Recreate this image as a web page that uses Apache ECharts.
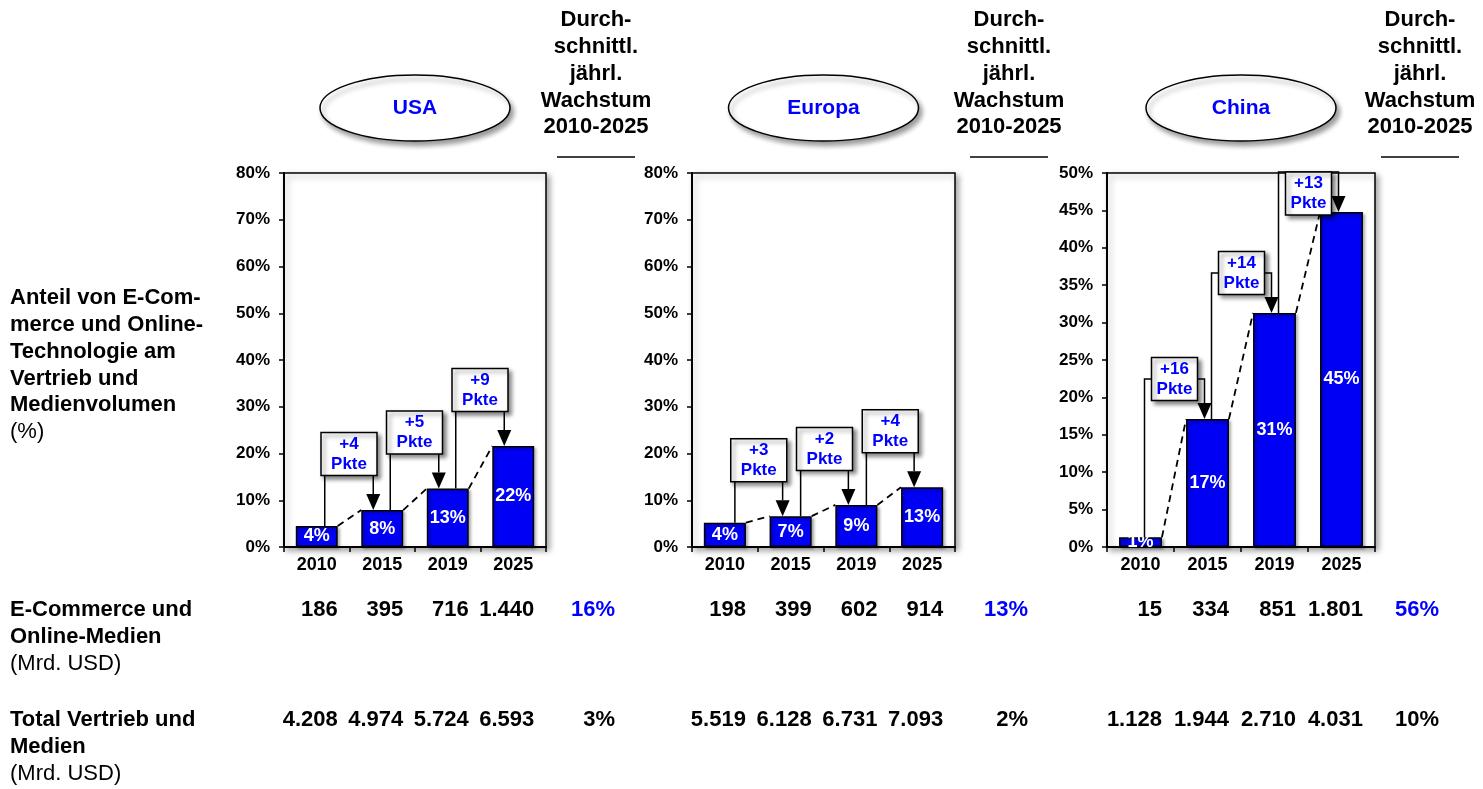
<!DOCTYPE html>
<html>
<head>
<meta charset="utf-8">
<script src="https://cdn.jsdelivr.net/npm/echarts@6/dist/echarts.min.js"></script>
<style>
html, body { margin: 0; padding: 0; background: #fff; }
#chart { width: 1483px; height: 789px; }
</style>
</head>
<body>
<div id="chart"></div>
<script>
// categories
const years = ["2010", "2015", "2019", "2025"];

// share of e-commerce (%), bar heights and printed labels
const usaShare = [4.5, 7.9, 12.5, 21.6];
const usaShareLabel = [4, 8, 13, 22];
const usaDelta = [4, 5, 9];
const europeShare = [5.2, 6.6, 9.0, 12.8];
const europeShareLabel = [4, 7, 9, 13];
const europeDelta = [3, 2, 4];
const chinaShare = [1.3, 17.1, 31.3, 44.8];
const chinaShareLabel = [1, 17, 31, 45];
const chinaDelta = [16, 14, 13];

// Mrd. USD
const usaEcom = [186, 395, 716, 1440];
const usaTotal = [4208, 4974, 5724, 6593];
const europeEcom = [198, 399, 602, 914];
const europeTotal = [5519, 6128, 6731, 7093];
const chinaEcom = [15, 334, 851, 1801];
const chinaTotal = [1128, 1944, 2710, 4031];

// average yearly growth 2010-2025 (%)
const ecomGrowth = [16, 13, 56];
const totalGrowth = [3, 2, 10];

const FONT = '"Liberation Sans", Arial, Helvetica, sans-serif';
const BLUE = "#0000ff";

const panels = [
  { name: "USA", share: usaShare, label: usaShareLabel, delta: usaDelta, ecom: usaEcom, total: usaTotal,
    max: 80, step: 10, left: 284, width: 262, lineOff: 8, arrowOff: 9, lift: 56, boxW: 56, colOff: 50 },
  { name: "Europa", share: europeShare, label: europeShareLabel, delta: europeDelta, ecom: europeEcom, total: europeTotal,
    max: 80, step: 10, left: 692, width: 263, lineOff: 10, arrowOff: 8, lift: 56, boxW: 56, colOff: 54 },
  { name: "China", share: chinaShare, label: chinaShareLabel, delta: chinaDelta, ecom: chinaEcom, total: chinaTotal,
    max: 50, step: 5, left: 1107, width: 268, lineOff: 4, arrowOff: 3, lift: 40, boxW: 46, colOff: 45 }
];
const gridTop = 173, gridHeight = 374;

function fmt(n) {
  const s = String(n);
  return s.length > 3 ? s.slice(0, s.length - 3) + "." + s.slice(-3) : s;
}

function annotationItem(p) {
  return function (params, api) {
    const i = api.value(0);
    const a = api.coord([i, api.value(1)]);
    const b = api.coord([i + 1, api.value(2)]);
    const lineX = a[0] + p.lineOff;
    const arrowX = b[0] - p.arrowOff;
    const bracketY = b[1] - p.lift;
    const boxH = 43;
    const boxCy = Math.max(bracketY, params.coordSys.y + boxH / 2 - 1);
    const boxCx = (lineX + arrowX) / 2;
    const headH = 16, headW = 14;
    return {
      type: "group",
      children: [
        { type: "polyline",
          shape: { points: [[lineX, a[1]], [lineX, bracketY], [arrowX, bracketY], [arrowX, b[1] - headH]] },
          style: { stroke: "#000", lineWidth: 1.5, fill: null } },
        { type: "polygon",
          shape: { points: [[arrowX - headW / 2, b[1] - headH], [arrowX + headW / 2, b[1] - headH], [arrowX, b[1]]] },
          style: { fill: "#000" } },
        { type: "rect",
          shape: { x: boxCx - p.boxW / 2, y: boxCy - boxH / 2, width: p.boxW, height: boxH },
          style: { fill: "#fff", stroke: "#000", lineWidth: 1.5, shadowBlur: 4, shadowOffsetX: 3, shadowOffsetY: 3,
                   shadowColor: "rgba(0,0,0,0.45)" } },
        { type: "text",
          style: { text: "+" + api.value(3) + "\nPkte", x: boxCx, y: boxCy, align: "center", verticalAlign: "middle",
                   font: "bold 17px " + FONT, fill: BLUE, lineHeight: 20 } }
      ]
    };
  };
}

function connectorItem(params, api) {
  const i = api.value(0);
  const a = api.coord([i, api.value(1)]);
  const b = api.coord([i + 1, api.value(2)]);
  const half = api.size([1, 0])[0] * 0.32;
  return {
    type: "line",
    shape: { x1: a[0] + half, y1: a[1], x2: b[0] - half, y2: b[1] },
    style: { stroke: "#000", lineWidth: 1.8, lineDash: [7, 5] }
  };
}

const grids = [], xAxes = [], yAxes = [], series = [];
panels.forEach((p, k) => {
  grids.push({
    left: p.left, top: gridTop, width: p.width, height: gridHeight, show: true,
    backgroundColor: "#fff", borderColor: "#000", borderWidth: 1.5,
    shadowBlur: 6, shadowOffsetX: 3, shadowOffsetY: 3, shadowColor: "rgba(0,0,0,0.35)"
  });
  xAxes.push({
    type: "category", gridIndex: k, data: years,
    axisLine: { lineStyle: { color: "#000", width: 2 } },
    axisTick: { show: true, length: 5, lineStyle: { color: "#000", width: 1.5 } },
    axisLabel: { color: "#000", fontWeight: "bold", fontSize: 18, fontFamily: FONT, margin: 9 }
  });
  yAxes.push({
    type: "value", gridIndex: k, min: 0, max: p.max, interval: p.step,
    axisLine: { show: true, lineStyle: { color: "#000", width: 2 } },
    axisTick: { show: true, length: 5, lineStyle: { color: "#000", width: 1.5 } },
    splitLine: { show: false },
    axisLabel: { formatter: "{value}%", color: "#000", fontWeight: "bold", fontSize: 17, fontFamily: FONT, margin: 14 }
  });
  series.push({
    type: "bar", xAxisIndex: k, yAxisIndex: k, data: p.share, barWidth: "64%", z: 2,
    itemStyle: { color: "#0000f5", borderColor: "#000", borderWidth: 1.5,
                 shadowBlur: 3, shadowOffsetX: 2, shadowOffsetY: 2, shadowColor: "rgba(0,0,0,0.35)" },
    label: { show: true, position: "inside", formatter: (d) => p.label[d.dataIndex] + "%",
             color: "#fff", fontWeight: "bold", fontSize: 18, fontFamily: FONT },
    emphasis: { disabled: true }
  });
  const pairs = p.delta.map((d, i) => [i, p.share[i], p.share[i + 1], d]);
  series.push({
    type: "custom", xAxisIndex: k, yAxisIndex: k, data: pairs, encode: { x: 0, y: 1 },
    renderItem: connectorItem, clip: false, z: 3, silent: true
  });
  series.push({
    type: "custom", xAxisIndex: k, yAxisIndex: k, data: pairs, encode: { x: 0, y: 1 },
    renderItem: annotationItem(p), clip: false, z: 4, silent: true
  });
});

const chart = echarts.init(document.getElementById("chart"), null, { renderer: "canvas" });
chart.setOption({
  animation: false,
  backgroundColor: "#fff",
  grid: grids, xAxis: xAxes, yAxis: yAxes, series: series
});

// texts around the charts
const graphic = [];
function txt(text, x, y, opts) {
  graphic.push({ type: "text", z: 10, style: Object.assign({
    text: text, x: x, y: y, fill: "#000", font: "bold 22px " + FONT,
    align: "left", verticalAlign: "middle"
  }, opts || {}) });
}

const LH = 26.7;
txt("Anteil von E-Com-\nmerce und Online-\nTechnologie am\nVertrieb und\nMedienvolumen", 10, 285,
    { verticalAlign: "top", lineHeight: LH });
txt("(%)", 10, 285 + 5 * LH, { verticalAlign: "top", lineHeight: LH, font: "22px " + FONT });
txt("E-Commerce und\nOnline-Medien", 10, 597, { verticalAlign: "top", lineHeight: LH });
txt("(Mrd. USD)", 10, 597 + 2 * LH, { verticalAlign: "top", lineHeight: LH, font: "22px " + FONT });
txt("Total Vertrieb und\nMedien", 10, 707, { verticalAlign: "top", lineHeight: LH });
txt("(Mrd. USD)", 10, 707 + 2 * LH, { verticalAlign: "top", lineHeight: LH, font: "22px " + FONT });

panels.forEach((p, k) => {
  const cx = p.left + p.width / 2;
  graphic.push({
    type: "ellipse", z: 9, shape: { cx: cx, cy: 108, rx: 95, ry: 33 },
    style: { fill: "#fff", stroke: "#000", lineWidth: 1.5, shadowBlur: 5, shadowOffsetX: 3, shadowOffsetY: 4,
             shadowColor: "rgba(0,0,0,0.4)" }
  });
  txt(p.name, cx, 108, { align: "center", fill: BLUE, font: "bold 21px " + FONT });

  const colX = p.left + p.width + p.colOff;
  txt("Durch-\nschnittl.\njährl.\nWachstum\n2010-2025", colX, 7,
      { align: "center", verticalAlign: "top", lineHeight: LH });
  graphic.push({
    type: "line", z: 10, shape: { x1: colX - 39, y1: 157, x2: colX + 39, y2: 157 },
    style: { stroke: "#000", lineWidth: 1.5 }
  });

  const half = p.width / 4 * 0.32;
  years.forEach((y, i) => {
    const px = chart.convertToPixel({ xAxisIndex: k }, y) + half;
    txt(fmt(p.ecom[i]), px, 610, { align: "right" });
    txt(fmt(p.total[i]), px, 720, { align: "right" });
  });
  txt(ecomGrowth[k] + "%", colX + 19, 610, { align: "right", fill: BLUE });
  txt(totalGrowth[k] + "%", colX + 19, 720, { align: "right" });
});

chart.setOption({ graphic: graphic });
</script>
</body>
</html>
